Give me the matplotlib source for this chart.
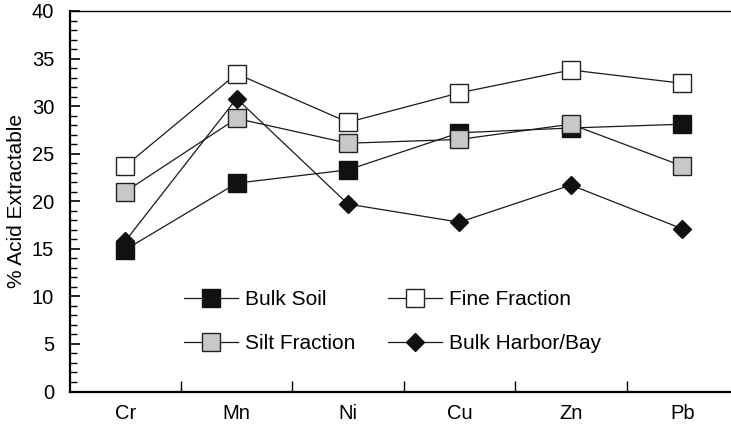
import matplotlib
matplotlib.use("Agg")
import matplotlib.pyplot as plt
from matplotlib.ticker import MultipleLocator, FixedLocator, FixedFormatter

plt.rcParams['font.family'] = ['Liberation Sans', 'DejaVu Sans']

categories = ["Cr", "Mn", "Ni", "Cu", "Zn", "Pb"]
bulk_soil = [14.9, 21.9, 23.3, 27.2, 27.7, 28.1]
silt_fraction = [21.0, 28.7, 26.1, 26.5, 28.1, 23.7]
fine_fraction = [23.7, 33.4, 28.3, 31.4, 33.8, 32.4]
bulk_harbor = [15.8, 30.8, 19.7, 17.8, 21.7, 17.1]

W, H = 731, 424
fig = plt.figure(figsize=(W / 100, H / 100), dpi=100)
left, right, top, bottom = 69.5, 738, 11, 391.5
ax = fig.add_axes([left / W, 1 - bottom / H, (right - left) / W, (bottom - top) / H])

x = list(range(len(categories)))
lc = '#1a1a1a'
ax.plot(x, bulk_soil, color=lc, lw=0.9, marker='s', ms=12.5, mfc='#111111', mec='#111111', mew=1, label='Bulk Soil', zorder=3)
ax.plot(x, fine_fraction, color=lc, lw=0.9, marker='s', ms=12.5, mfc='white', mec='#222222', mew=1, label='Fine Fraction', zorder=3)
ax.plot(x, silt_fraction, color=lc, lw=0.9, marker='s', ms=12.5, mfc='#c8c8c8', mec='#222222', mew=1, label='Silt Fraction', zorder=4)
ax.plot(x, bulk_harbor, color=lc, lw=0.9, marker='D', ms=9.5, mfc='#111111', mec='#111111', mew=1, label='Bulk Harbor/Bay', zorder=3)

ax.set_xlim(-0.5, len(categories) - 0.5)
ax.set_ylim(0, 40)
ax.yaxis.set_major_locator(MultipleLocator(5))
ax.yaxis.set_minor_locator(MultipleLocator(1))
ax.xaxis.set_major_locator(FixedLocator([i + 0.5 for i in range(len(categories) - 1)]))
ax.xaxis.set_minor_locator(FixedLocator(x))
ax.xaxis.set_minor_formatter(FixedFormatter(categories))
ax.tick_params(axis='x', which='major', direction='in', length=8, width=1, labelbottom=False)
ax.tick_params(axis='x', which='minor', length=0, labelsize=14.5, pad=9)
ax.tick_params(axis='y', which='major', direction='in', length=7, width=1.2, labelsize=14.5, pad=11)
ax.tick_params(axis='y', which='minor', direction='in', length=5, width=1)
ax.set_ylabel('% Acid Extractable', fontsize=15, labelpad=4)

for s in ['left', 'bottom']:
    ax.spines[s].set_linewidth(1.6)
ax.spines['top'].set_linewidth(1.0)
ax.spines['right'].set_visible(False)

h, l = ax.get_legend_handles_labels()
order = [0, 2, 1, 3]
leg = ax.legend([h[i] for i in order], [l[i] for i in order], ncol=2, frameon=False,
                fontsize=15, handlelength=2.6, handletextpad=0.34, columnspacing=1.55,
                labelspacing=1.2, loc='upper left',
                bbox_to_anchor=(184 / W, 1 - 290 / H), bbox_transform=fig.transFigure,
                borderaxespad=0, borderpad=0)

fig.savefig('out.png', dpi=100)
